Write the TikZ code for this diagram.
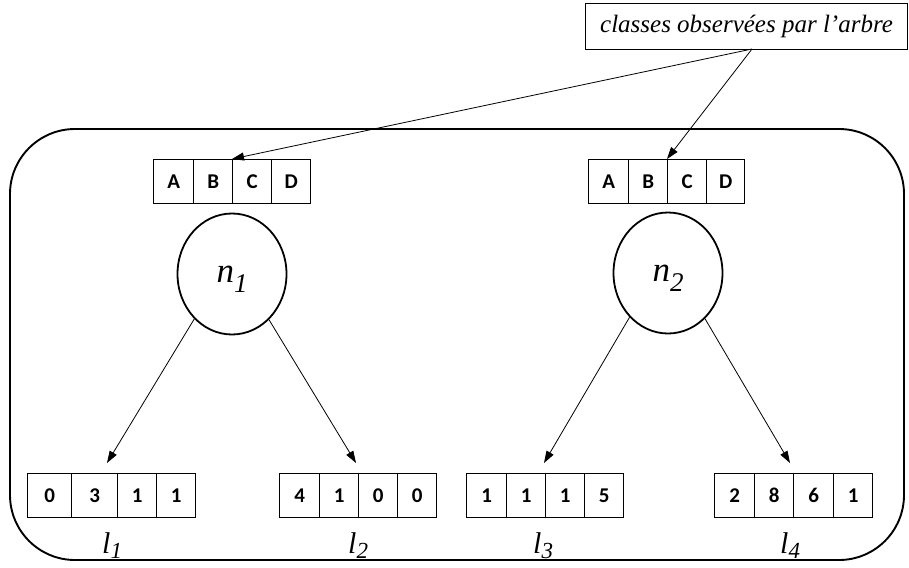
\documentclass[tikz,border=0pt]{standalone}
\usepackage{fontspec}
\setmainfont{Liberation Serif}
\newfontfamily\cellfont{Carlito}
\usetikzlibrary{shapes.geometric,arrows.meta}
\tikzset{
  cell/.style={draw, line width=1.3pt, anchor=north west, inner sep=0pt, minimum height=44pt,
    font=\cellfont\bfseries\fontsize{21}{21}\selectfont},
  nodeell/.style={draw, ellipse, line width=1.8pt, inner sep=0pt, minimum width=109pt, minimum height=121pt,
    text height=24pt, text depth=8pt, font=\itshape\fontsize{35}{35}\selectfont},
  leaflabel/.style={anchor=base west, inner sep=0pt, font=\itshape\fontsize{30}{30}\selectfont},
  arr/.style={line width=0.8pt, -{Triangle[length=12pt,width=8pt]}},
  frame/.style={line width=1.9pt, rounded corners=65pt},
  labelbox/.style={draw, line width=1.1pt, anchor=north west, minimum width=322pt, minimum height=46pt,
    inner sep=0pt, font=\itshape\fontsize{25}{25}\selectfont}
}
\begin{document}
\begin{tikzpicture}[x=1pt,y=-1pt]
\useasboundingbox (0,0) rectangle (909,567);
% frame
\draw[frame] (10,129) rectangle (904,560);
% label box
\node[labelbox] (lb) at (585,3) {classes observées par l’arbre};
\coordinate (s) at (752,49);
% top boxes
\foreach \i/\xa/\xb/\t in {1/153/193/A,2/193/232/B,3/232/271/C,4/271/310/D}
  \node[cell, minimum width={\xb-\xa}] (a\i) at (\xa,159) {\t};
\foreach \i/\xa/\xb/\t in {1/588/628/A,2/628/667/B,3/667/706/C,4/706/744/D}
  \node[cell, minimum width={\xb-\xa}] (b\i) at (\xa,159) {\t};
% ellipses
\node[nodeell] (n1) at (232,274) {n\raisebox{-10pt}{\fontsize{27}{27}\selectfont 1}};
\node[nodeell] (n2) at (668,273) {n\raisebox{-10pt}{\fontsize{27}{27}\selectfont 2}};
% leaves
\foreach \i/\xa/\xb/\t in {1/27/71/0,2/71/117/3,3/117/156/1,4/156/195/1}
  \node[cell, minimum width={\xb-\xa}] (la\i) at (\xa,473) {\t};
\foreach \i/\xa/\xb/\t in {1/279/319/4,2/319/358/1,3/358/397/0,4/397/436/0}
  \node[cell, minimum width={\xb-\xa}] (lb\i) at (\xa,473) {\t};
\foreach \i/\xa/\xb/\t in {1/466/506/1,2/506/545/1,3/545/584/1,4/584/623/5}
  \node[cell, minimum width={\xb-\xa}] (lc\i) at (\xa,473) {\t};
\foreach \i/\xa/\xb/\t in {1/714/754/2,2/754/793/8,3/793/833/6,4/833/872/1}
  \node[cell, minimum width={\xb-\xa}] (ld\i) at (\xa,473) {\t};
% leaf labels
\node[leaflabel] (L1) at (102,553) {l\raisebox{-5pt}{\fontsize{23}{23}\selectfont 1}};
\node[leaflabel] (L2) at (348,553) {l\raisebox{-5pt}{\fontsize{23}{23}\selectfont 2}};
\node[leaflabel] (L3) at (533,553) {l\raisebox{-5pt}{\fontsize{23}{23}\selectfont 3}};
\node[leaflabel] (L4) at (780,553) {l\raisebox{-5pt}{\fontsize{23}{23}\selectfont 4}};
% arrow targets
\coordinate (t1) at (107,463);
\coordinate (t2) at (356,463);
\coordinate (t3) at (544,463);
\coordinate (t4) at (790,463);
\draw[arr] (n1.230) -- (t1);
\draw[arr] (n1.309) -- (t2);
\draw[arr] (n2.229) -- (t3);
\draw[arr] (n2.309) -- (t4);
\draw[arr] (s) -- (a3.north west);
\draw[arr] (s) -- (b3.north west);
\end{tikzpicture}
\end{document}
